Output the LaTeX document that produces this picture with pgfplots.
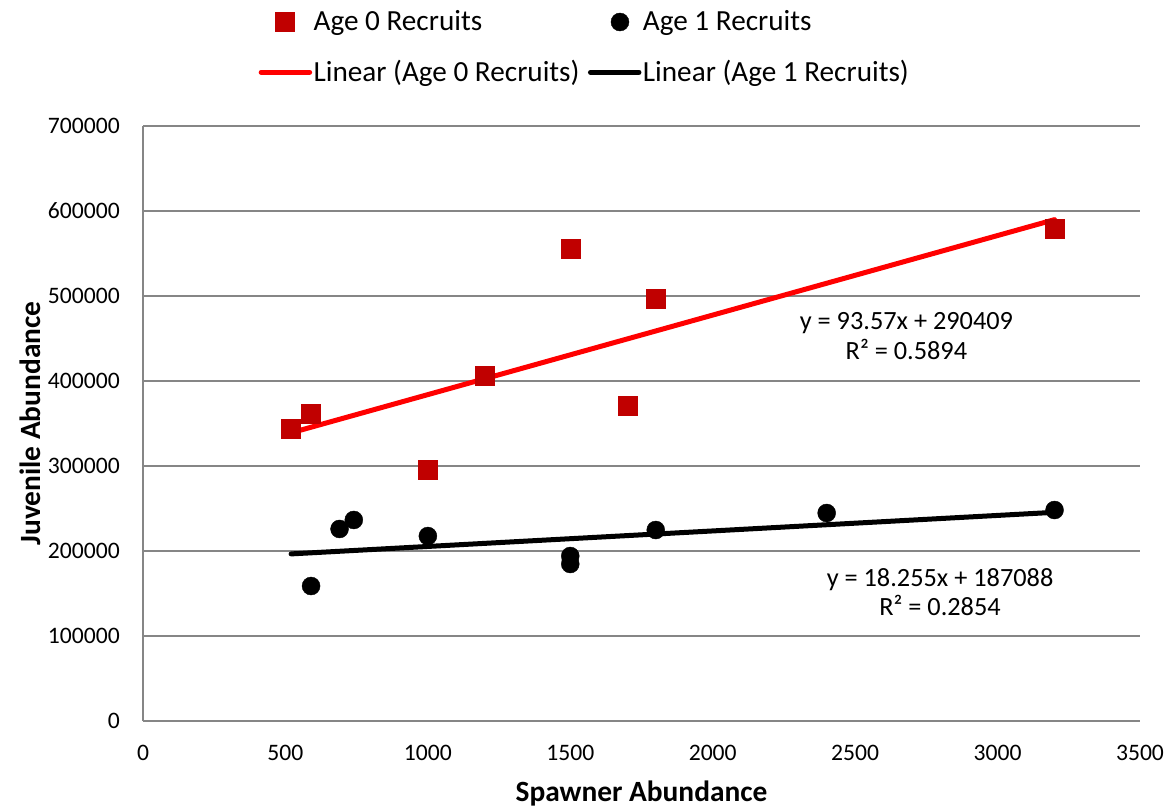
\documentclass[border=0pt]{standalone}
\usepackage{pgfplots}
\pgfplotsset{compat=1.18}
\usepackage{fontspec}
\setmainfont{Carlito}
\usetikzlibrary{calc}
\definecolor{sqred}{RGB}{192,0,0}
\definecolor{gridgray}{RGB}{134,134,134}
\pgfplotsset{
  markleg/.style={legend image code/.code={\draw[mark repeat=2,mark phase=2,##1] plot coordinates {(0bp,0bp) (26.5bp,0bp) (53bp,0bp)};}},
  markleg2/.style={legend image code/.code={\draw[mark repeat=2,mark phase=2,##1] plot coordinates {(0bp,0bp) (32bp,0bp) (64bp,0bp)};}},
  lineleg/.style={legend image code/.code={\draw[##1] (2.5bp,0bp) -- (51bp,0bp);}},
}
\begin{document}
\fontsize{23.7}{28}\selectfont
\begin{tikzpicture}
\begin{axis}[
  name=ax,
  scale only axis,
  width=997bp, height=595bp,
  xmin=0, xmax=3500, ymin=0, ymax=700000,
  xtick={0,500,...,3500},
  ytick={0,100000,200000,300000,400000,500000,600000,700000},
  scaled ticks=false,
  /pgf/number format/fixed,
  /pgf/number format/precision=0,
  /pgf/number format/1000 sep={},
  /pgf/number format/assume math mode=true,
  axis line style={draw=none},
  major tick length=0pt,
  tick style={draw=none},
  ymajorgrids=true,
  grid style={gridgray, line width=1.3bp},
  extra x ticks={0},
  extra x tick labels={},
  extra x tick style={grid=major},
  tick label style={font=\fontsize{23.7}{28}\selectfont},
  yticklabel style={inner sep=0pt, xshift=-23bp},
  xticklabel style={inner sep=0pt, yshift=-24bp},
  xlabel={Spawner Abundance},
  ylabel={Juvenile Abundance},
  label style={font=\fontsize{29.5}{34}\selectfont\bfseries},
  xlabel style={at={(axis description cs:0.5,-0.121)}, anchor=center},
  ylabel style={at={(axis description cs:-0.1133,0.5)}, anchor=center},
  legend columns=2,
  legend style={draw=none, fill=none, at={(axis description cs:0.4428,1.132)}, anchor=center,
    font=\fontsize{29.3}{34}\selectfont,
    row sep=26bp, nodes={inner xsep=1.5bp, inner ysep=0pt},
    /tikz/every even column/.append style={column sep=7bp}},
  legend cell align=left,
]
\addplot[only marks, mark=square*, mark size=9.5bp, draw=sqred, fill=sqred, markleg]
  coordinates {(520,343500) (590,361000) (1000,295300) (1200,405900) (1500,555300) (1700,370600) (1800,496500) (3200,578800)};
\addlegendentry{Age 0 Recruits}
\addplot[only marks, mark=*, mark size=9bp, draw=black, fill=black, markleg2]
  coordinates {(590,158800) (690,225900) (740,236500) (1000,217600) (1500,194100) (1500,184700) (1800,224700) (2400,244700) (3200,248200)};
\addlegendentry{Age 1 Recruits}
\addplot[red, line width=5bp, line cap=round, no marks, lineleg]
  coordinates {(520,339065) (3200,589833)};
\addlegendentry{Linear (Age 0 Recruits)}
\addplot[black, line width=5bp, line cap=round, no marks, lineleg]
  coordinates {(520,196581) (3200,245504)};
\addlegendentry{Linear (Age 1 Recruits)}
\node[align=center, inner sep=0pt, font=\fontsize{26.4}{29.5}\selectfont] at (axis cs:2680,452900) {y = 93.57x + 290409\\R² = 0.5894};
\node[align=center, inner sep=0pt, font=\fontsize{26.4}{29.5}\selectfont] at (axis cs:2798,151800) {y = 18.255x + 187088\\R² = 0.2854};
\end{axis}
\pgfresetboundingbox
\path ($(ax.south west)+(-143bp,-87bp)$) rectangle ($(ax.north east)+(28bp,126bp)$);
\end{tikzpicture}
\end{document}
